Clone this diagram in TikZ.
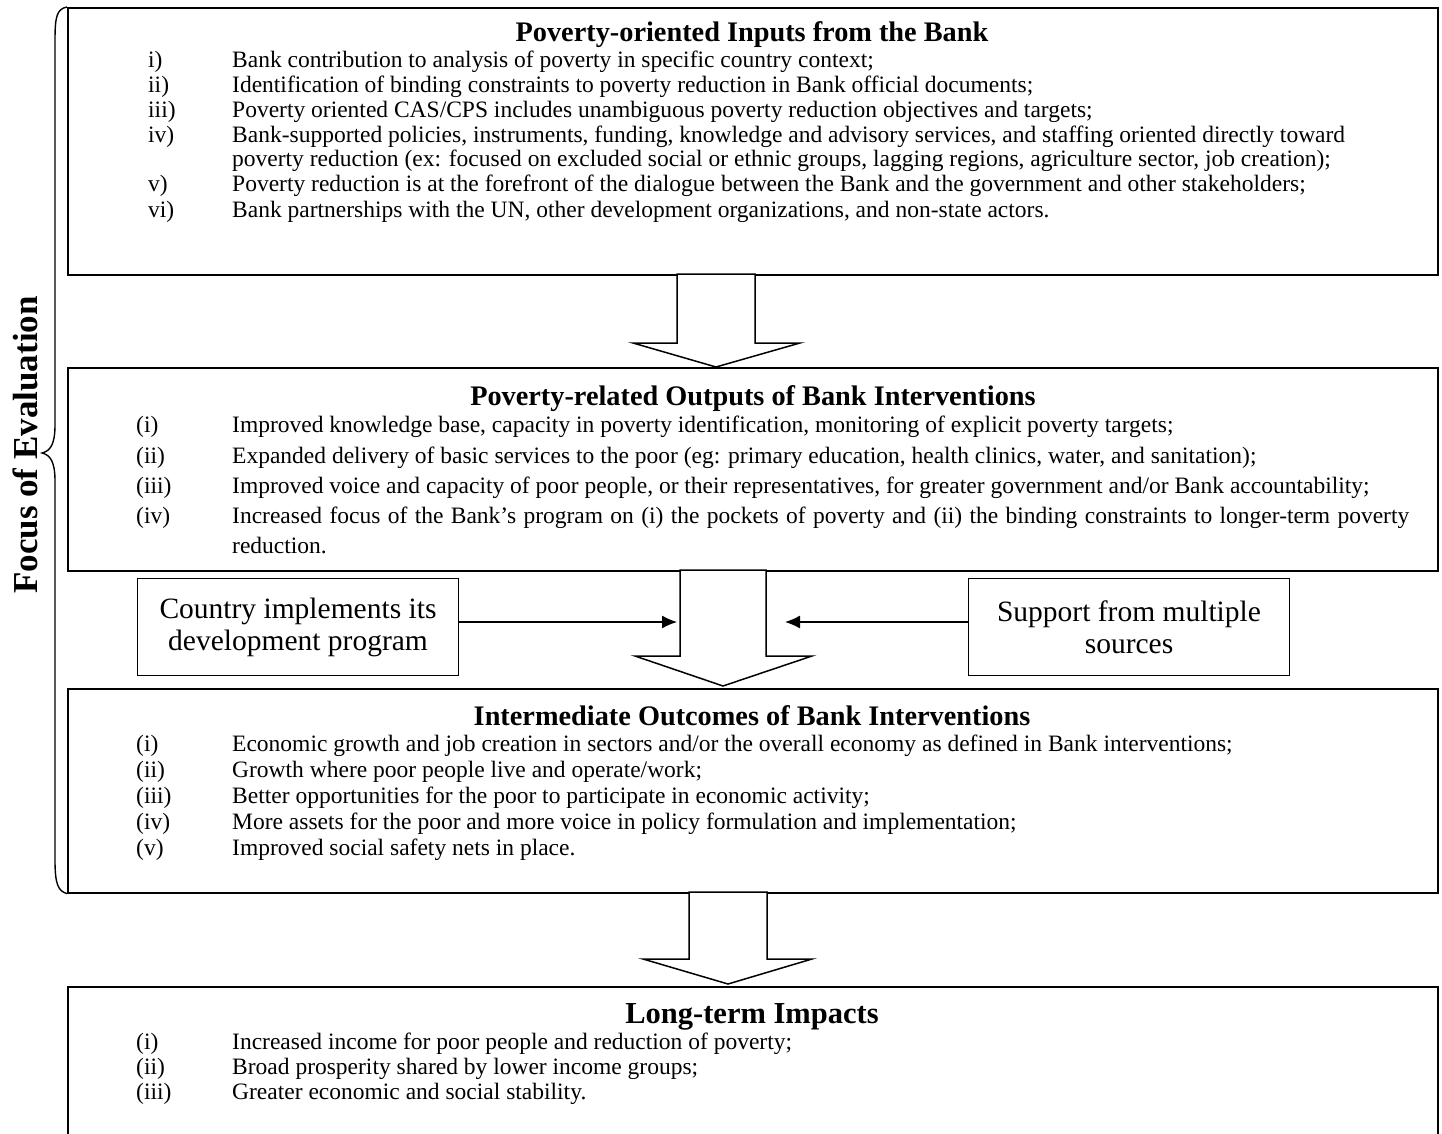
\documentclass[tikz,border=0pt]{standalone}
\usepackage{fontspec}
\setmainfont{Liberation Serif}
\usetikzlibrary{arrows.meta}
\begin{document}
\begin{tikzpicture}[
        x=1pt, y=-1pt,
        % riquadri principali
        box/.style={
            draw,
            line width=1.6pt,
            minimum width=1370pt,
            inner sep=0pt,
            anchor=north west
        },
        side/.style={
            draw,
            line width=1.3pt,
            minimum width=321pt,
            minimum height=97pt,
            align=center,
            font=\fontsize{29.5}{32}\selectfont
        },
        ttl/.style={anchor=base, font=\fontsize{28.3}{30}\selectfont\bfseries},
        lbl/.style={anchor=base west, inner sep=0pt, font=\fontsize{23.5}{25}\selectfont},
        blk/.style={draw, line width=1.5pt, fill=white, line join=miter},
        feed/.style={line width=1.2pt, -{Latex[length=15pt,width=13pt]}}
    ]

    \useasboundingbox (0,0) rectangle (1442,1134);

    % --- riquadri ---
    \node[box, minimum height=267pt] (inputs) at (67,7) {};
    \node[box, minimum height=203pt] (outputs) at (67,367) {};
    \node[box, minimum height=204pt] (outcomes) at (67,688) {};
    \node[box, minimum height=180pt] (impacts) at (67,986) {};

    % --- frecce a blocco ---
    \coordinate (arr1) at (716,274);
    \draw[blk, shift={(arr1)}] (-39,0) -- (-39,69) -- (-83,69) -- (0,93) -- (84,69) -- (39,69) -- (39,0) -- cycle;
    \coordinate (arr2) at (723,570);
    \draw[blk, shift={(arr2)}] (-43,0) -- (-43,86) -- (-88,86) -- (0,116) -- (89,86) -- (43,86) -- (43,0) -- cycle;
    \coordinate (arr3) at (728,892);
    \draw[blk, shift={(arr3)}] (-39,0) -- (-39,67) -- (-85,67) -- (0,92) -- (84,67) -- (39,67) -- (39,0) -- cycle;

    % --- Inputs ---
    \node[ttl] (inputsT) at (752,42) {Poverty-oriented Inputs from the Bank};
    \foreach \y/\l/\t [count=\i] in {
        68/i)/{Bank contribution to analysis of poverty in specific country context;},
        93/ii)/{Identification of binding constraints to poverty reduction in Bank official documents;},
        118/iii)/{Poverty oriented CAS/CPS includes unambiguous poverty reduction objectives and targets;},
        143/iv)/{Bank-supported policies, instruments, funding, knowledge and advisory services, and staffing oriented directly toward},
        167//{poverty reduction (ex: focused on excluded social or ethnic groups, lagging regions, agriculture sector, job creation);},
        192/v)/{Poverty reduction is at the forefront of the dialogue between the Bank and the government and other stakeholders;},
        217/vi)/{Bank partnerships with the UN, other development organizations, and non-state actors.}} {
        \node[lbl] (inL\i) at (148,\y) {\l};
        \node[lbl] (inT\i) at (232,\y) {\t};
    }

    % --- Outputs ---
    \node[ttl] (outputsT) at (753,405) {Poverty-related Outputs of Bank Interventions};
    \foreach \y/\l/\t [count=\i] in {
        432/(i)/{Improved knowledge base, capacity in poverty identification, monitoring of explicit poverty targets;},
        463/(ii)/{Expanded delivery of basic services to the poor (eg: primary education, health clinics, water, and sanitation);},
        493/(iii)/{Improved voice and capacity of poor people, or their representatives, for greater government and/or Bank accountability;},
        523/(iv)/{\makebox[1177pt][s]{Increased focus of the Bank’s program on (i) the pockets of poverty and (ii) the binding constraints to longer-term poverty}},
        553//{reduction.}} {
        \node[lbl] (outL\i) at (136,\y) {\l};
        \node[lbl] (outT\i) at (232,\y) {\t};
    }

    % --- riquadri laterali ---
    \node[side] (country) at (298,627) {Country implements its\\development program};
    \node[side] (support) at (1129,627) {Support from multiple\\sources};
    \coordinate (shaftL) at (677,622);
    \coordinate (shaftR) at (785,622);
    \draw[feed] (country.east |- shaftL) -- (shaftL);
    \draw[feed] (support.west |- shaftR) -- (shaftR);

    % --- Outcomes ---
    \node[ttl] (outcomesT) at (752,725) {Intermediate Outcomes of Bank Interventions};
    \foreach \y/\l/\t [count=\i] in {
        751/(i)/{Economic growth and job creation in sectors and/or the overall economy as defined in Bank interventions;},
        777/(ii)/{Growth where poor people live and operate/work;},
        803/(iii)/{Better opportunities for the poor to participate in economic activity;},
        829/(iv)/{More assets for the poor and more voice in policy formulation and implementation;},
        855/(v)/{Improved social safety nets in place.}} {
        \node[lbl] (ocL\i) at (136,\y) {\l};
        \node[lbl] (ocT\i) at (232,\y) {\t};
    }

    % --- Impacts ---
    \node[ttl, font=\fontsize{30.5}{32}\selectfont\bfseries] (impactsT) at (752,1023) {Long-term Impacts};
    \foreach \y/\l/\t [count=\i] in {
        1049/(i)/{Increased income for poor people and reduction of poverty;},
        1074/(ii)/{Broad prosperity shared by lower income groups;},
        1099/(iii)/{Greater economic and social stability.}} {
        \node[lbl] (imL\i) at (136,\y) {\l};
        \node[lbl] (imT\i) at (232,\y) {\t};
    }

    % --- graffa e titolo laterale ---
    \draw[line width=1.4pt] (inputs.north west) .. controls (57,9) and (55,16) .. (55,40)
        -- (55,425) .. controls (55,445) and (50,451) .. (42,453)
        .. controls (50,455) and (55,461) .. (55,481)
        -- (55,860) .. controls (55,884) and (58,891) .. (outcomes.south west);
    \node[rotate=90, font=\fontsize{35}{36}\selectfont\bfseries] (focus) at (25,445) {Focus of Evaluation};

\end{tikzpicture}
\end{document}
